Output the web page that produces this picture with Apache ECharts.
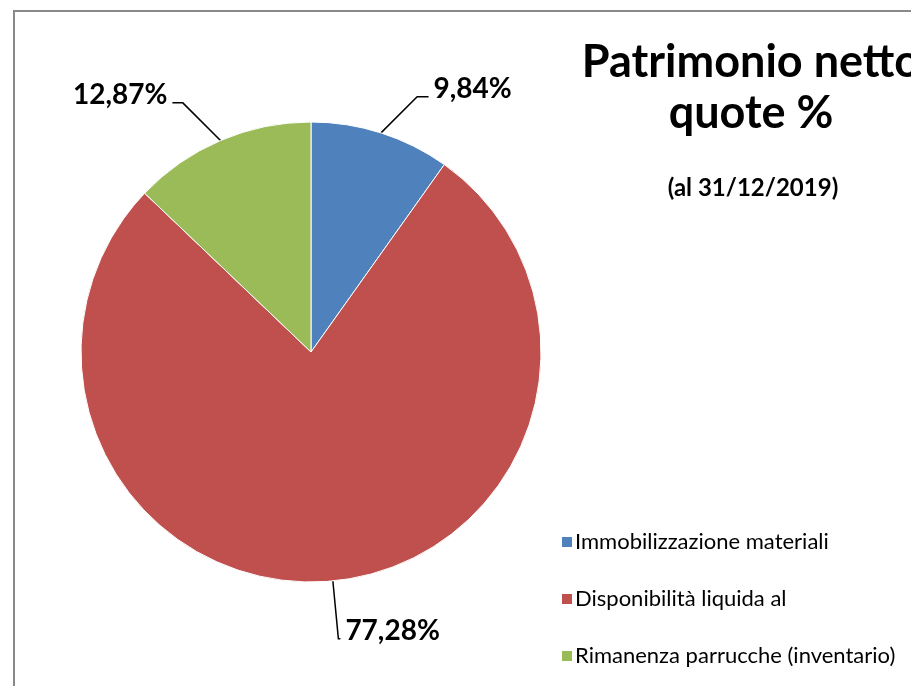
<!DOCTYPE html>
<html>
<head>
<meta charset="utf-8">
<script src="https://cdn.jsdelivr.net/npm/echarts@6/dist/echarts.min.js"></script>
<style>
html,body{margin:0;padding:0;background:#fff;}
#c{width:911px;height:686px;}
</style>
</head>
<body>
<div id="c"></div>
<script>
const categories = ['Immobilizzazione materiali', 'Disponibilità liquida al', 'Rimanenza parrucche (inventario)'];
const values = [9.84, 77.28, 12.87];
const colors = ['#4F81BD', '#C0504D', '#9BBB59'];
const titleText = 'Patrimonio netto\nquote %';
const subtitleText = '(al 31/12/2019)';

const lineLens = [[38, 36], [58, 2], [41, 32]];

const chart = echarts.init(document.getElementById('c'));
chart.setOption({
  animation: false,
  backgroundColor: '#ffffff',
  graphic: [{
    type: 'rect',
    shape: {x: 14, y: 11, width: 1000, height: 1000},
    style: {fill: 'none', stroke: '#898989', lineWidth: 2},
    silent: true
  }],
  title: [{
    text: titleText,
    left: 746,
    top: 32,
    textAlign: 'center',
    textStyle: {fontFamily: 'Lato', fontWeight: 'bold', fontSize: 45, lineHeight: 51, color: '#000'}
  }, {
    text: subtitleText,
    left: 748,
    top: 171,
    textAlign: 'center',
    textStyle: {fontFamily: 'Lato', fontWeight: 'bold', fontSize: 24, color: '#000'}
  }],
  legend: {
    orient: 'vertical',
    left: 555,
    top: 526,
    icon: 'rect',
    itemWidth: 12,
    itemHeight: 12,
    itemGap: 35,
    textStyle: {fontFamily: 'Lato', fontSize: 22, lineHeight: 22, color: '#000', padding: [0, 0, 0, -3]},
    data: categories
  },
  series: [{
    type: 'pie',
    center: [311, 352],
    radius: 230,
    startAngle: 90,
    clockwise: true,
    itemStyle: {borderColor: '#fff', borderWidth: 1},
    label: {
      show: true,
      position: 'outside',
      color: '#000',
      formatter: p => '{v|' + p.value.toFixed(2).replace('.', ',') + '%}',
      rich: {
        v: {fontFamily: 'Lato', fontWeight: 'bold', fontSize: 28, color: '#000', padding: [0, 0, 16, 0]}
      }
    },
    labelLayout: function (params) {
      const pts = params.labelLinePoints;
      if (!pts || pts.length < 3) return {};
      const p0 = pts[0], p1 = pts[1], p2 = pts[2];
      const dy = p1[1] - p0[1];
      if (dy >= 0) return {};
      const dir = p2[0] >= p1[0] ? 1 : -1;
      const nx = p0[0] + dir * Math.abs(dy);
      return {labelLinePoints: [[p0[0], p0[1]], [nx, p1[1]], [p2[0], p2[1]]]};
    },
    labelLine: {show: true, lineStyle: {color: '#000', width: 1.5}},
    data: categories.map((n, i) => ({
      name: n,
      value: values[i],
      itemStyle: {color: colors[i]},
      labelLine: {length: lineLens[i][0], length2: lineLens[i][1]}
    }))
  }]
});
</script>
</body>
</html>
